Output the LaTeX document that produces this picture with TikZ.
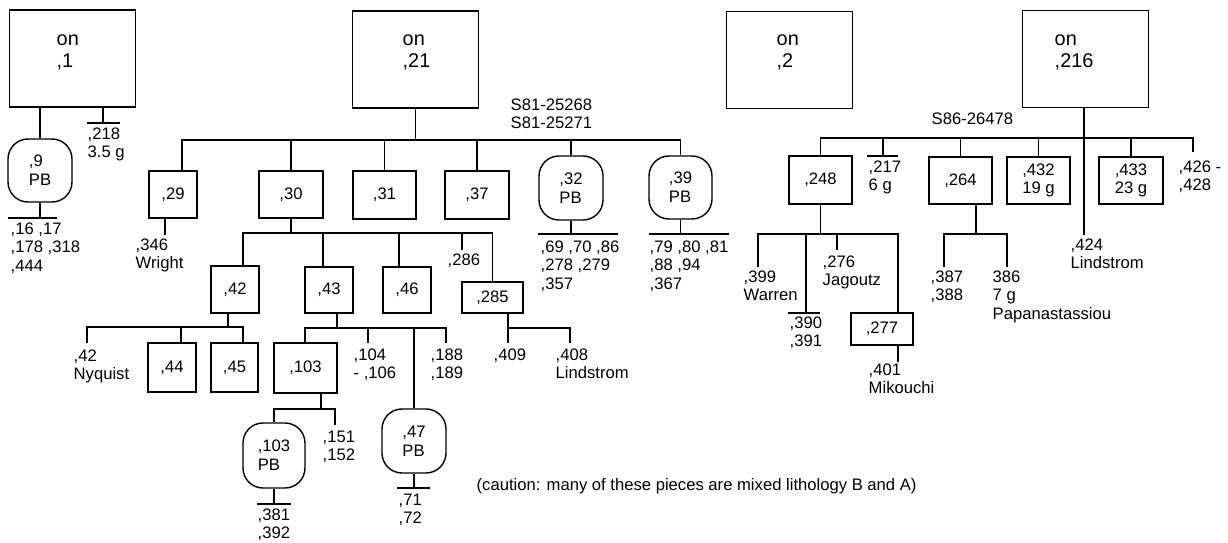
\documentclass[tikz,border=0pt]{standalone}
\usepackage{fontspec}
\setmainfont{Liberation Sans}
\newcommand\lblfont{\fontsize{14.2}{16}\selectfont}
\newcommand\topfont{\fontsize{17}{19.6}\selectfont}
\tikzset{
  topbox/.style={draw, minimum width=3.78cm, minimum height=2.91cm},
  toptext/.style={anchor=base west, inner sep=0pt, align=left, font=\topfont},
  sbox/.style 2 args={draw, inner sep=0pt, align=left, font=\lblfont,
    minimum width=#1*0.03cm, minimum height=#2*0.03cm},
  rbox/.style 2 args={sbox={#1}{#2}, rounded corners=0.6cm},
  lbl/.style={anchor=base west, inner sep=0pt, align=left, font=\lblfont},
}
\begin{document}
\begin{tikzpicture}[x=0.03cm, y=-0.03cm, line width=1.2pt]
    \useasboundingbox (0,0) rectangle (1228,543);

    % Top boxes (text placed by the baseline of its last line)
    \node[topbox] (on1) at (72.5,58.5) {};
    \node[topbox] (on21) at (415.5,59.5) {};
    \node[topbox] (on2) at (789.5,60) {};
    \node[topbox] (on216) at (1085.5,59) {};
    \node[toptext] (on1t) at (56,68) {on\\,1};
    \node[toptext] (on21t) at (402,68) {on\\,21};
    \node[toptext] (on2t) at (776,68) {on\\,2};
    \node[toptext] (on216t) at (1054,68) {on\\,216};

    % ,1
    \node[rbox={64}{63}] (r9) at (40,170.5) {,9\\PB};
    \node[lbl] (l218) at (87,157.8) {,218\\3.5 g};
    \node[lbl] (l9) at (10,271.6) {,16 ,17\\,178 ,318\\,444};
    \coordinate (k218) at (103,123);
    \coordinate (k9) at (40,218);
    \draw (r9.north) -- (r9.north |- on1.south);
    \draw (k218 |- on1.south) -- (k218) +(-16,0) -- +(17,0);
    \draw (r9.south) -- (k9) +(-32,0) -- +(17,0);

    % ,21
    \node[sbox={48}{47}] (c29) at (173,194.5) {,29};
    \node[sbox={64}{47}] (c30) at (291,194.5) {,30};
    \node[sbox={63}{48}] (c31) at (384.5,195) {,31};
    \node[sbox={64}{48}] (c37) at (477,195) {,37};
    \node[rbox={64}{64}] (r32) at (571,188) {,32\\PB};
    \node[rbox={63}{63}] (r39) at (680.5,187.5) {,39\\PB};
    \node[lbl] (s81) at (510,128.8) {S81-25268\\S81-25271};
    \node[lbl] (l346) at (135,268.8) {,346\\Wright};
    \node[lbl] (l69) at (540,289.6) {,69 ,70 ,86\\,278 ,279\\,357};
    \node[lbl] (l79) at (649,289.6) {,79 ,80 ,81\\,88 ,94\\,367};
    \coordinate (b21) at (182,140);
    \draw (on21.south) -- (on21.south |- b21);
    \draw (c29.north -| b21) -- (b21) -- (b21 -| r39.north) -- (r39.north);
    \draw (c30.north) -- (c30.north |- b21);
    \draw (c31.north) -- (c31.north |- b21);
    \draw (c37.north) -- (c37.north |- b21);
    \draw (r32.north) -- (r32.north |- b21);
    \coordinate (k346) at (165,235);
    \draw (c29.south -| k346) -- (k346);
    \coordinate (k32) at (571,234);
    \draw (r32.south) -- (k32) +(-33,0) -- +(47,0);
    \coordinate (k39) at (680.5,234);
    \draw (r39.south) -- (k39) +(-32,0) -- +(48,0);

    % ,30
    \node[sbox={48}{47}] (c42) at (235,289.5) {,42};
    \node[sbox={48}{46}] (c43) at (329,290) {,43};
    \node[sbox={48}{46}] (c46) at (407,290) {,46};
    \node[sbox={61}{31}] (c285) at (492.5,297.5) {,285};
    \node[lbl] (l286) at (447,266) {,286};
    \coordinate (b30) at (243,233);
    \coordinate (j43) at (323,233);
    \coordinate (j46) at (399,233);
    \coordinate (k286) at (462,250);
    \draw (c30.south) -- (c30.south |- b30);
    \draw (c42.north -| b30) -- (b30) -- (b30 -| c285.north) -- (c285.north);
    \draw (j43) -- (j43 |- c43.north);
    \draw (j46) -- (j46 |- c46.north);
    \draw (k286 |- b30) -- (k286);

    % ,42
    \node[sbox={48}{49}] (c44) at (172,367.5) {,44};
    \node[sbox={47}{49}] (c45) at (234.5,367.5) {,45};
    \node[lbl] (l42) at (73,379.8) {,42\\Nyquist};
    \coordinate (b42) at (87,327);
    \coordinate (j42) at (228,327);
    \coordinate (j44) at (181,327);
    \coordinate (j45) at (243,327);
    \coordinate (k42) at (87,343);
    \draw (c42.south -| j42) -- (j42);
    \draw (k42) -- (b42) -- (j45) -- (j45 |- c45.north);
    \draw (j44) -- (j44 |- c44.north);

    % ,43
    \node[sbox={63}{50}] (c103) at (305.5,368) {,103};
    \node[rbox={64}{64}] (r47) at (414,441) {,47\\PB};
    \node[lbl] (l104) at (353,378.8) {,104\\- ,106};
    \node[lbl] (l188) at (430,378.8) {,188\\,189};
    \coordinate (b43) at (305,328);
    \coordinate (j43b) at (337,328);
    \coordinate (k104) at (368,343);
    \coordinate (k188) at (446,343);
    \draw (c43.south -| j43b) -- (j43b);
    \draw (c103.north -| b43) -- (b43) -- (b43 -| k188) -- (k188);
    \draw (k104 |- b43) -- (k104);
    \draw (r47.north) -- (r47.north |- b43);
    \coordinate (k71) at (414,488);
    \node[lbl] (l71) at (398,523.8) {,71\\,72};
    \draw (r47.south) -- (k71) +(-17,0) -- +(16,0);

    % ,103
    \node[rbox={62}{65}] (r103) at (274,455.5) {,103\\PB};
    \node[lbl] (l151) at (322,460.8) {,151\\,152};
    \node[lbl] (l381) at (257,538.8) {,381\\,392};
    \coordinate (b103) at (274,409);
    \coordinate (j103) at (321,409);
    \coordinate (k151) at (335,425);
    \draw (c103.south -| j103) -- (j103);
    \draw (r103.north) -- (r103.north |- b103) -- (b103 -| k151) -- (k151);
    \coordinate (k381) at (274,504);
    \draw (r103.south) -- (k381) +(-17,0) -- +(17,0);

    % ,285
    \node[lbl] (l409) at (493,360) {,409};
    \node[lbl] (l408) at (555,378.8) {,408\\Lindstrom};
    \coordinate (b285) at (508,328);
    \coordinate (k409) at (508,343);
    \coordinate (k408) at (570,343);
    \draw (c285.south -| b285) -- (k409);
    \draw (b285) -- (b285 -| k408) -- (k408);

    % ,216
    \node[lbl] (s86) at (931,125) {S86-26478};
    \node[sbox={63}{48}] (c248) at (820.5,180) {,248};
    \node[sbox={63}{47}] (c264) at (960.5,180.5) {,264};
    \node[sbox={63}{47}] (c432) at (1038.5,180.5) {,432\\19 g};
    \node[sbox={64}{47}] (c433) at (1131,180.5) {,433\\23 g};
    \node[lbl] (l217) at (868,190.8) {,217\\6 g};
    \node[lbl] (l426) at (1178,190.8) {,426 -\\,428};
    \node[lbl] (l424) at (1070,268.8) {,424\\Lindstrom};
    \coordinate (b216) at (820,138);
    \coordinate (k424) at (1084,235);
    \coordinate (k426) at (1193,152);
    \coordinate (k217) at (883,156);
    \draw (on216.south -| k424) -- (k424);
    \draw (c248.north) -- (c248.north |- b216) -- (b216 -| k426) -- (k426);
    \draw (k217 |- b216) -- (k217) +(-16,0) -- +(15,0);
    \draw (c264.north) -- (c264.north |- b216);
    \draw (c432.north) -- (c432.north |- b216);
    \draw (c433.north) -- (c433.north |- b216);

    % ,248
    \node[sbox={62}{32}] (c277) at (882,329) {,277};
    \node[lbl] (l399) at (743,300.8) {,399\\Warren};
    \node[lbl] (l390) at (789,346.8) {,390\\,391};
    \node[lbl] (l276) at (822,285.8) {,276\\Jagoutz};
    \node[lbl] (l401) at (868,393.8) {,401\\Mikouchi};
    \coordinate (b248) at (758,234);
    \coordinate (j277) at (898,234);
    \coordinate (k399) at (758,267);
    \coordinate (k390) at (806,313);
    \coordinate (k276) at (837,250);
    \coordinate (k401) at (898,362);
    \draw (c248.south) -- (c248.south |- b248);
    \draw (k399) -- (b248) -- (j277) -- (j277 |- c277.north);
    \draw (k390 |- b248) -- (k390) +(-18,0) -- +(14,0);
    \draw (k276 |- b248) -- (k276);
    \draw (c277.south -| k401) -- (k401);

    % ,264
    \node[lbl] (l387) at (930,300.8) {,387\\,388};
    \node[lbl] (l386) at (992,319.6) {386\\7 g\\Papanastassiou};
    \coordinate (b264) at (944,234);
    \coordinate (j264) at (976,234);
    \coordinate (k387) at (944,267);
    \coordinate (k386) at (1007,267);
    \draw (c264.south -| j264) -- (j264);
    \draw (k387) -- (b264) -- (b264 -| k386) -- (k386);

    \node[lbl] (note) at (476,490) {(caution: many of these pieces are mixed lithology B and A)};
\end{tikzpicture}
\end{document}
